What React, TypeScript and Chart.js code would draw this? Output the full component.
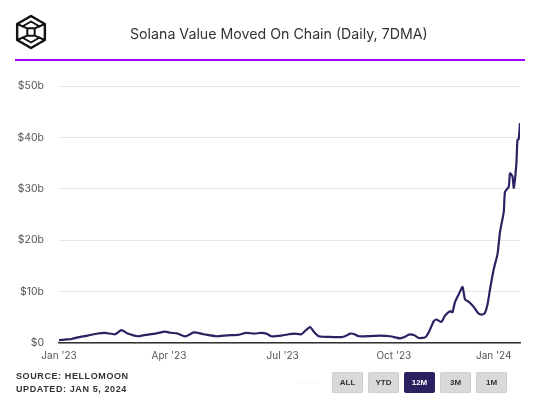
import React, { useEffect, useRef } from "react";
import { Chart, registerables } from "chart.js";

Chart.register(...registerables);

// day offset from Jan 1, 2023 (7-day moving average samples)
const days = [0,6,10,15,23,31,37,45,50,55,63,69,77,85,89,95,101,108,116,126,135,143,150,156,162,166,170,178,184,188,194,197,201,204,208,216,226,229,233,236,240,249,257,265,273,277,280,284,288,293,296,300,302,306,309,313,315,317,320,323,325,328,331,333,336,339,341,343,345,348,351,353,356,357,360,361,363,364,366,367,368,369];
// value moved, billions USD
const values = [0.55,0.7,0.78,1.1,1.44,1.85,1.96,1.7,2.5,1.83,1.31,1.57,1.83,2.2,2.0,1.83,1.28,2.05,1.7,1.31,1.5,1.57,1.96,1.83,1.96,1.83,1.31,1.44,1.7,1.83,1.7,2.35,3.1,2.2,1.31,1.18,1.15,1.3,1.83,1.75,1.31,1.35,1.44,1.31,0.9,1.2,1.63,1.55,0.98,1.1,2.1,4.25,4.57,4.1,5.35,6.2,6.0,8.0,9.5,10.9,8.5,8.0,7.3,6.67,5.7,5.55,5.9,7.5,10.45,14.4,17.3,21.6,25.5,29.4,30.4,33.0,32.4,30.2,34.6,39.5,39.7,42.8];

const xTickDays = [0, 88, 179, 268, 348];
const xTickLabels = ["Jan '23", "Apr '23", "Jul '23", "Oct '23", "Jan '24"];
const yTickValues = [0, 10, 20, 30, 40, 50];
const yTickLabels = ["$0", "$10b", "$20b", "$30b", "$40b", "$50b"];
const rangeButtons = ["ALL", "YTD", "12M", "3M", "1M"];
const activeRange = "12M";

const title = "Solana Value Moved On Chain (Daily, 7DMA)";
const sourceText = "SOURCE: HELLOMOON";
const updatedText = "UPDATED: JAN 5, 2024";

function Logo() {
  const cx = 16, cy = 18, r = 16, ri = 10.5;
  const pt = (rad: number, deg: number) => {
    const a = (deg * Math.PI) / 180;
    return [cx + rad * Math.cos(a), cy + rad * Math.sin(a)];
  };
  const outer = [-90, -30, 30, 90, 150, 210].map((d) => pt(r, d));
  const inner = [-90, -30, 30, 90, 150, 210].map((d) => pt(ri, d));
  const poly = (p: number[][]) => p.map((q) => q.join(",")).join(" ");
  return (
    <svg width="34" height="38" viewBox="-1 -1 34 38" style={{ position: "absolute", left: 14, top: 13 }}>
      <g fill="none" stroke="#111" strokeLinejoin="round">
        <polygon points={poly(outer)} strokeWidth="2.4" />
        <g strokeWidth="2">
          <polyline points={poly([inner[5], inner[0], inner[1]])} />
          <polyline points={poly([inner[4], inner[3], inner[2]])} />
          <rect x={12.3} y={14.3} width={7.4} height={7.4} rx={1.5} />
          <line x1={outer[5][0]} y1={outer[5][1]} x2={12.3} y2={14.3} />
          <line x1={outer[1][0]} y1={outer[1][1]} x2={19.7} y2={14.3} />
          <line x1={outer[4][0]} y1={outer[4][1]} x2={12.3} y2={21.7} />
          <line x1={outer[2][0]} y1={outer[2][1]} x2={19.7} y2={21.7} />
        </g>
      </g>
    </svg>
  );
}

export default function App() {
  const ref = useRef<HTMLCanvasElement | null>(null);

  useEffect(() => {
    if (!ref.current) return;
    const chart = new Chart(ref.current, {
      type: "line",
      data: {
        datasets: [
          {
            data: days.map((d, i) => ({ x: d, y: values[i] })),
            borderColor: "#2b2262",
            borderWidth: 2.2,
            pointRadius: 0,
            tension: 0.2,
            fill: false,
          },
        ],
      },
      options: {
        animation: false,
        responsive: false,
        events: [],
        layout: { padding: { left: 0, right: 15, top: 86, bottom: 28 } },
        plugins: { legend: { display: false }, tooltip: { enabled: false } },
        scales: {
          x: {
            type: "linear",
            min: 0,
            max: days[days.length - 1],
            afterBuildTicks: (scale: any) => {
              scale.ticks = xTickDays.map((v) => ({ value: v }));
            },
            grid: { display: false, drawTicks: false },
            border: { display: true, color: "#333", width: 1.5 },
            ticks: {
              autoSkip: false,
              maxRotation: 0,
              padding: 7,
              color: "#555",
              font: { family: "Inter", size: 10 },
              callback: (v: any) => {
                const i = xTickDays.indexOf(Number(v));
                return i >= 0 ? xTickLabels[i] : "";
              },
            },
          },
          y: {
            min: 0,
            max: 50,
            afterBuildTicks: (scale: any) => {
              scale.ticks = yTickValues.map((v) => ({ value: v }));
            },
            afterFit: (scale: any) => {
              scale.width = 59;
            },
            grid: { color: "#e6e6e6", lineWidth: 1, drawTicks: false },
            border: { display: false },
            ticks: {
              padding: 15,
              color: "#555",
              font: { family: "Inter", size: 10.5 },
              callback: (v: any) => {
                const i = yTickValues.indexOf(Number(v));
                return i >= 0 ? yTickLabels[i] : "";
              },
            },
          },
        },
      },
    });
    return () => chart.destroy();
  }, []);

  return (
    <div style={{ position: "fixed", left: 0, top: 0, width: 535, height: 397, background: "#fff", overflow: "hidden", fontFamily: "Inter, sans-serif" }}>
      <canvas ref={ref} width={535} height={397} style={{ position: "absolute", left: 0, top: 0, width: 535, height: 397 }} />
      <Logo />
      <div style={{ position: "absolute", left: 130, top: 25, fontSize: 14.2, lineHeight: "18px", color: "#333", whiteSpace: "nowrap" }}>{title}</div>
      <div style={{ position: "absolute", left: 15, top: 59, width: 510, height: 2, background: "#a000ff" }} />
      <div style={{ position: "absolute", left: 16, top: 370, fontFamily: "'Liberation Sans', Arial, sans-serif", fontWeight: 700, fontSize: 9, letterSpacing: 0.6, lineHeight: "13px", color: "#333", whiteSpace: "nowrap" }}>
        <div>{sourceText}</div>
        <div>{updatedText}</div>
      </div>
      <div style={{ position: "absolute", left: 296, top: 377, fontFamily: "'Liberation Sans', Arial, sans-serif", fontWeight: 700, fontSize: 8, color: "#f8f8f8" }}>ZOOM</div>
      {rangeButtons.map((b, i) => {
        const active = b === activeRange;
        return (
          <div
            key={b}
            style={{
              position: "absolute",
              left: 332 + i * 36,
              top: 372,
              width: 31,
              height: 21,
              borderRadius: 2,
              background: active ? "#2b2160" : "#d9d9d9",
              boxShadow: active ? "none" : "inset 0 0 0 1px #cfcfcf",
              color: active ? "#fff" : "#333",
              fontFamily: "'Liberation Sans', Arial, sans-serif",
              fontWeight: 700,
              fontSize: 8,
              display: "flex",
              alignItems: "center",
              justifyContent: "center",
            }}
          >
            {b}
          </div>
        );
      })}
    </div>
  );
}
